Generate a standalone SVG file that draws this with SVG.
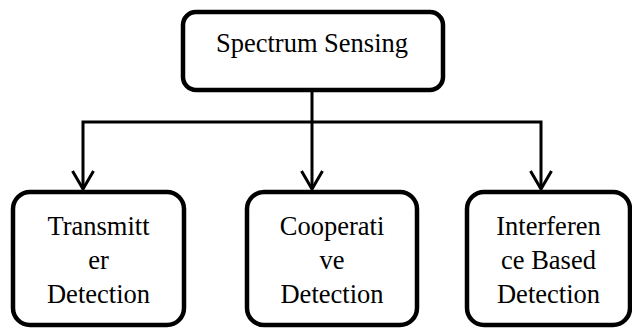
<svg xmlns="http://www.w3.org/2000/svg" width="632" height="329" viewBox="0 0 632 329">
<style>
.box{fill:#fff;stroke:#000;stroke-width:4.5}
.t{font-family:'Liberation Serif','Times New Roman',serif;font-size:26.5px;fill:#000;text-anchor:middle}
.c{fill:none;stroke:#000;stroke-width:3}
.h{fill:none;stroke:#000;stroke-width:3;stroke-linejoin:miter}
</style>
<rect width="632" height="329" fill="#fff"/>
<g id="connectors">
<line class="c" x1="312" y1="90" x2="312" y2="189"/>
<polyline class="c" points="83,189 83,122 541,122 541,189"/>
<polyline class="h" points="72.5,171 83,189 93.5,171"/>
<polyline class="h" points="301.5,171 312,189 322.5,171"/>
<polyline class="h" points="530.5,171 541,189 551.5,171"/>
</g>
<g id="spectrum-sensing">
<rect class="box" x="183" y="12" width="260" height="78" rx="13"/>
<text class="t" x="312" y="52">Spectrum Sensing</text>
</g>
<g id="transmitter-detection">
<rect class="box" x="13" y="192" width="171" height="133" rx="17"/>
<text class="t" x="98.5" y="235">Transmitt</text>
<text class="t" x="98.5" y="269">er</text>
<text class="t" x="98.5" y="303">Detection</text>
</g>
<g id="cooperative-detection">
<rect class="box" x="247" y="192" width="170" height="133" rx="17"/>
<text class="t" x="332" y="235">Cooperati</text>
<text class="t" x="332" y="269">ve</text>
<text class="t" x="332" y="303">Detection</text>
</g>
<g id="interference-detection">
<rect class="box" x="467" y="192" width="163" height="133" rx="17"/>
<text class="t" x="548.5" y="235">Interferen</text>
<text class="t" x="548.5" y="269">ce Based</text>
<text class="t" x="548.5" y="303">Detection</text>
</g>
</svg>
